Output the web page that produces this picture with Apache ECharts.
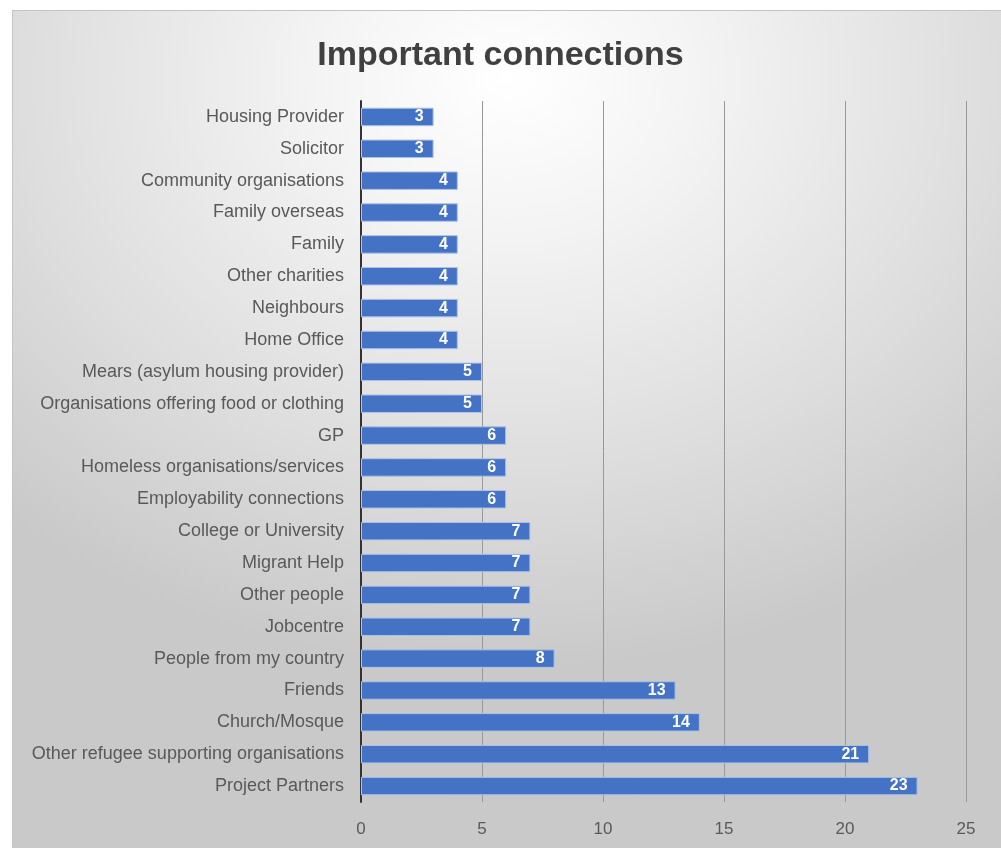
<!DOCTYPE html>
<html>
<head>
<meta charset="utf-8">
<script src="https://cdn.jsdelivr.net/npm/echarts@6/dist/echarts.min.js"></script>
<style>
  html, body { margin: 0; padding: 0; background: #fff; }
  #frame { position: absolute; left: 12px; top: 10px; width: 988px; height: 845px; border: 1px solid #c4c4c4;
    background: radial-gradient(ellipse 75% 70% at 50% 8%, #ffffff 0%, #f4f4f4 25%, #dedede 65%, #c9c9c9 100%); }
  #chart { position: absolute; left: 0; top: 0; width: 1001px; height: 848px; }
</style>
</head>
<body>
<div id="frame"></div>
<div id="chart"></div>
<script>
const categories = [
  "Housing Provider", "Solicitor", "Community organisations", "Family overseas", "Family",
  "Other charities", "Neighbours", "Home Office", "Mears (asylum housing provider)",
  "Organisations offering food or clothing", "GP", "Homeless organisations/services",
  "Employability connections", "College or University", "Migrant Help", "Other people",
  "Jobcentre", "People from my country", "Friends", "Church/Mosque",
  "Other refugee supporting organisations", "Project Partners"
];
const values = [3, 3, 4, 4, 4, 4, 4, 4, 5, 5, 6, 6, 6, 7, 7, 7, 7, 8, 13, 14, 21, 23];
const xTicks = { min: 0, max: 25, interval: 5 };
const titleText = "Important connections";

const FONT = "'Liberation Sans', Arial, sans-serif";
const chart = echarts.init(document.getElementById('chart'), null, { renderer: 'canvas' });
chart.setOption({
  backgroundColor: 'transparent',
  animation: false,
  title: {
    text: titleText, left: 'center', top: 34,
    textStyle: { fontFamily: FONT, fontSize: 34, fontWeight: 'bold', color: '#404040' }
  },
  grid: { left: 361, right: 35, top: 101, bottom: 46, containLabel: false },
  xAxis: {
    type: 'value', min: xTicks.min, max: xTicks.max, interval: xTicks.interval,
    axisLine: { show: false }, axisTick: { show: false },
    axisLabel: { fontFamily: FONT, fontSize: 17, color: '#595959', margin: 19 },
    splitLine: { lineStyle: { color: '#999999', width: 1 } }
  },
  yAxis: {
    type: 'category', data: categories, inverse: true,
    axisLine: { lineStyle: { color: '#333', width: 2 } }, axisTick: { show: false },
    axisLabel: { fontFamily: FONT, fontSize: 18, color: '#595959', margin: 17 }
  },
  series: [{
    type: 'bar', data: values, barCategoryGap: '42%',
    itemStyle: { color: '#4472C4', borderColor: '#aec3e8', borderWidth: 1 },
    label: { show: true, position: 'insideRight', distance: 10, color: '#fff', fontWeight: 'bold', fontSize: 16, fontFamily: FONT }
  }]
});
</script>
</body>
</html>
